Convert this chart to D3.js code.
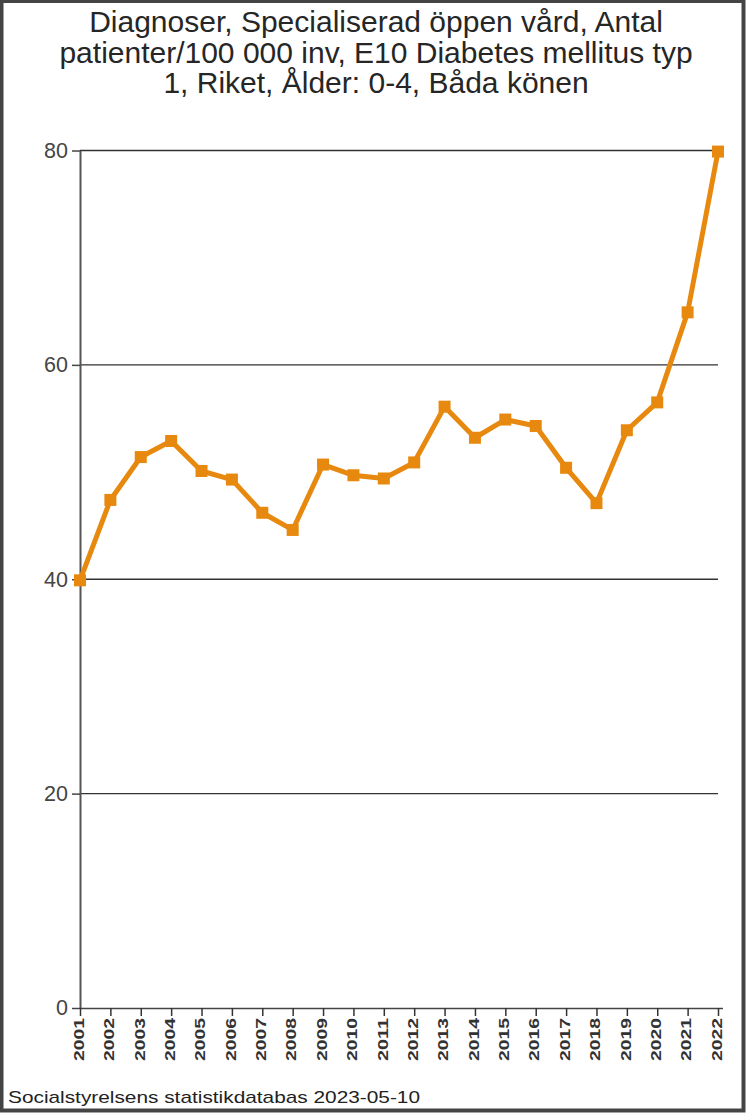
<!DOCTYPE html>
<html><head><meta charset="utf-8">
<script src="https://cdn.jsdelivr.net/npm/d3@7"></script>
<style>html,body{margin:0;padding:0;background:#fff}svg{display:block}</style>
</head><body>
<svg id="c" width="753" height="1117"></svg>
<script>
const titleLines = ["Diagnoser, Specialiserad öppen vård, Antal","patienter/100 000 inv, E10 Diabetes mellitus typ","1, Riket, Ålder: 0-4, Båda könen"];
const years = ["2001","2002","2003","2004","2005","2006","2007","2008","2009","2010","2011","2012","2013","2014","2015","2016","2017","2018","2019","2020","2021","2022"];
const values = [39.9,47.4,51.4,52.9,50.1,49.3,46.2,44.6,50.7,49.7,49.4,50.9,56.1,53.2,54.9,54.3,50.4,47.1,53.9,56.5,64.9,79.9];
const yTicks = [0,20,40,60,80];
const footer = "Socialstyrelsens statistikdatabas 2023-05-10";

(function(){
const svg = d3.select("#c");
const pL = 80, pR = 718, pT = 150.5, pB = 1008;
const x = d3.scalePoint().domain(years).range([pL, pR]);
const y = d3.scaleLinear().domain([0,80]).range([pB, pT]);

// frame
svg.append("rect").attr("x",1.5).attr("y",1).attr("width",742).attr("height",1109.5)
  .attr("fill","none").attr("stroke","#444").attr("stroke-width",4);

// title
svg.append("g").selectAll("text").data(titleLines).join("text")
  .attr("x",376).attr("y",(d,i)=>32+i*30.5).attr("text-anchor","middle")
  .attr("font-family","Liberation Sans, Arial, sans-serif").attr("font-size",30)
  .attr("fill","#262626").text(d=>d);

// gridlines
svg.append("g").selectAll("line").data(yTicks.filter(d=>d>0)).join("line")
  .attr("x1",pL).attr("x2",pR).attr("y1",d=>y(d)).attr("y2",d=>y(d))
  .attr("stroke","#333").attr("stroke-width",1.3);

// y axis
const ya = svg.append("g").attr("transform",`translate(${pL},0)`)
  .call(d3.axisLeft(y).tickValues(yTicks).tickSize(8).tickPadding(4).tickSizeOuter(0));
ya.select(".domain").attr("stroke","#555").attr("stroke-width",2);
ya.selectAll(".tick line").attr("stroke","#444").attr("stroke-width",1.5);
ya.selectAll("text").attr("font-family","Liberation Sans, Arial, sans-serif").attr("font-size",21.5).attr("fill","#444");

// x axis
const xa = svg.append("g").attr("transform",`translate(0,${pB})`)
  .call(d3.axisBottom(x).tickSize(8).tickSizeOuter(0));
xa.select(".domain").attr("stroke","#444").attr("stroke-width",1.5).attr("d",`M${pL},0.5H${pR+5}`);
xa.selectAll(".tick line").attr("stroke","#333").attr("stroke-width",1.5);
xa.selectAll("text")
  .attr("font-family","Liberation Sans, Arial, sans-serif").attr("font-size",15).attr("font-weight","bold").attr("fill","#333")
  .attr("transform","rotate(-90)").attr("text-anchor","end").attr("dy","0.35em").attr("x",-10).attr("y",-2)
  .attr("textLength",43).attr("lengthAdjust","spacingAndGlyphs");

// line
svg.append("path").datum(values)
  .attr("d",d3.line().x((d,i)=>x(years[i])).y(d=>y(d)))
  .attr("fill","none").attr("stroke","#E8890F").attr("stroke-width",5).attr("stroke-linejoin","round");
svg.append("g").selectAll("rect").data(values).join("rect")
  .attr("x",(d,i)=>x(years[i])-6).attr("y",d=>y(d)-6).attr("width",12).attr("height",12)
  .attr("fill","#E8890F");

// footer
svg.append("text").attr("x",8).attr("y",1103).attr("font-family","Liberation Sans, Arial, sans-serif")
  .attr("font-size",17).attr("fill","#222").attr("textLength",412).attr("lengthAdjust","spacingAndGlyphs").text(footer);
})();
</script>
</body></html>
